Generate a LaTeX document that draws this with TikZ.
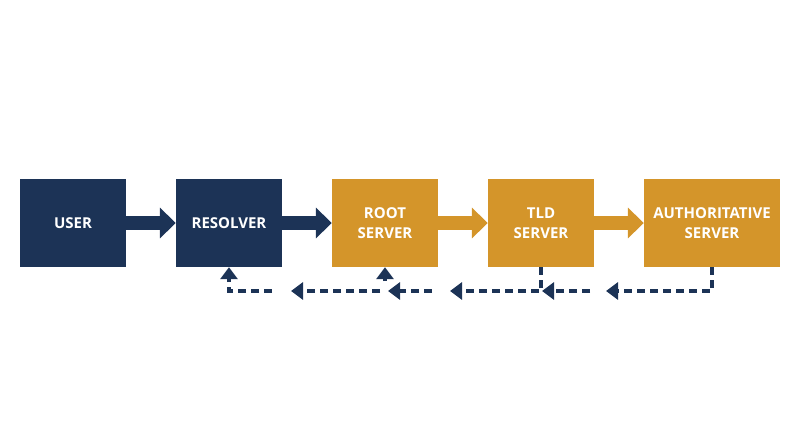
\documentclass[tikz,border=0pt]{standalone}
\usepackage{fontspec}
\setmainfont{Open Sans}
\usetikzlibrary{arrows.meta, positioning, calc}
\definecolor{navy}{HTML}{1C3356}
\definecolor{gold}{HTML}{D4952A}

\begin{document}
\begin{tikzpicture}[x=1pt, y=-1pt,
	box/.style={draw=none, minimum width=106pt, minimum height=88pt, inner sep=0pt, align=center, text=white, font=\fontsize{15}{20}\selectfont\bfseries},
	fwd/.style={navy, line width=14pt, -{Triangle[length=16pt, width=30pt]}},
	back/.style={navy, line width=3.5pt, dash pattern=on 8pt off 5pt, -{Triangle[length=12pt, width=17pt]}}]
		\useasboundingbox (0,0) rectangle (800,447);
		\node[box, fill=navy] (user) at (73, 223) {USER};
		\node[box, fill=navy] (resolver) at (229, 223) {RESOLVER};
		\node[box, fill=gold] (root) at (385, 223) {ROOT\\SERVER};
		\node[box, fill=gold] (tld) at (541, 223) {TLD\\SERVER};
		\node[box, fill=gold, minimum width=136pt] (auth) at (712, 223) {AUTHORITATIVE\\SERVER};
		\draw[fwd] (user) -- (resolver);
		\draw[fwd] (resolver) -- (root);
		\draw[fwd, gold] (root) -- (tld);
		\draw[fwd, gold] (tld) -- (auth);
		% dashed replies
		\coordinate (a1) at (606, 291);
		\coordinate (a2) at (590, 291);
		\coordinate (a3) at (542, 291);
		\coordinate (t1) at (450, 291);
		\coordinate (t2) at (432, 291);
		\coordinate (t3) at (388, 291);
		\coordinate (r0) at (385, 281);
		\coordinate (r1) at (380, 291);
		\coordinate (r2) at (291, 291);
		\coordinate (s1) at (272, 291);
		\draw[back] (auth.south) |- (a1);
		\draw[back] (a2) -- (a3);
		\draw[back] (tld.south) |- (t1);
		\draw[back] (t2) -- (t3);
		\draw[back, dash pattern=] (r0) -- (root.south);
		\draw[back] (r1) -- (r2);
		\draw[back] (s1) -| (resolver.south);
	\end{tikzpicture}
\end{document}
